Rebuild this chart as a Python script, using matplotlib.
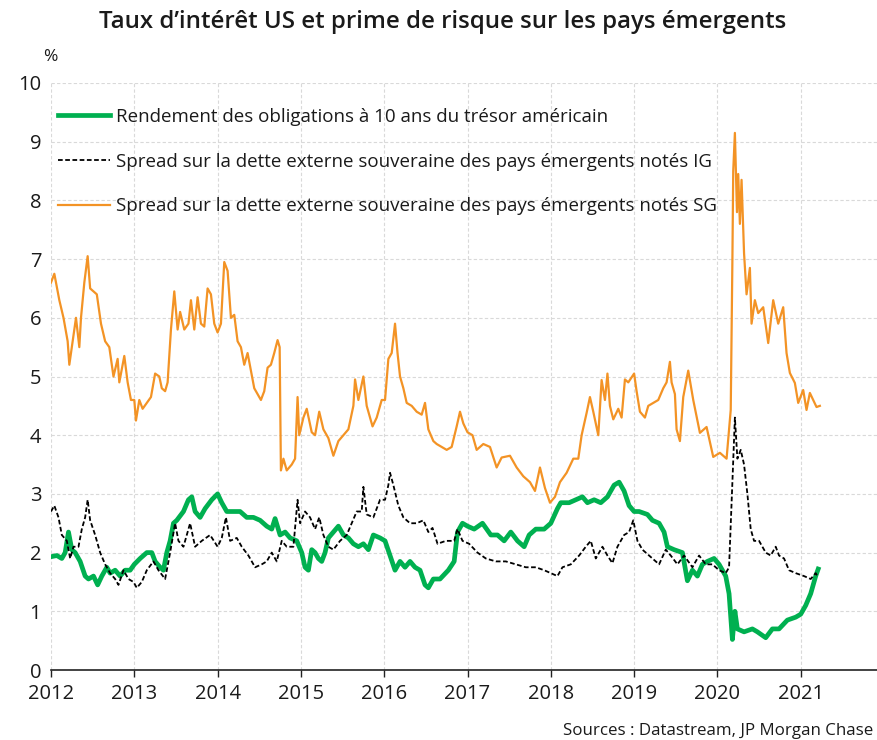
import matplotlib
matplotlib.use('Agg')
import matplotlib.pyplot as plt

plt.rcParams['font.family'] = ['Open Sans', 'DejaVu Sans']

# --- Data (decimal years) ---
us10y_t = [2012.00, 2012.07, 2012.13, 2012.17, 2012.21, 2012.25, 2012.29, 2012.35, 2012.41, 2012.45,
           2012.51, 2012.56, 2012.61, 2012.67, 2012.71, 2012.77, 2012.83, 2012.89, 2012.95, 2013.00,
           2013.07, 2013.15, 2013.21, 2013.25, 2013.31, 2013.35, 2013.39, 2013.43, 2013.47, 2013.51,
           2013.59, 2013.65, 2013.69, 2013.73, 2013.79, 2013.85, 2013.93, 2014.00, 2014.05, 2014.11,
           2014.19, 2014.27, 2014.35, 2014.43, 2014.51, 2014.59, 2014.65, 2014.69, 2014.75, 2014.81,
           2014.87, 2014.95, 2015.01, 2015.05, 2015.09, 2015.13, 2015.17, 2015.21, 2015.25, 2015.29,
           2015.33, 2015.39, 2015.45, 2015.51, 2015.57, 2015.63, 2015.69, 2015.75, 2015.81, 2015.87,
           2015.95, 2016.01, 2016.07, 2016.13, 2016.19, 2016.25, 2016.31, 2016.37, 2016.43, 2016.49,
           2016.53, 2016.59, 2016.67, 2016.77, 2016.84, 2016.88, 2016.94, 2017.00, 2017.08, 2017.18,
           2017.28, 2017.36, 2017.44, 2017.52, 2017.60, 2017.68, 2017.74, 2017.82, 2017.92, 2018.00,
           2018.08, 2018.12, 2018.22, 2018.30, 2018.38, 2018.44, 2018.52, 2018.60, 2018.68, 2018.76,
           2018.82, 2018.88, 2018.94, 2019.00, 2019.06, 2019.16, 2019.22, 2019.30, 2019.36, 2019.40,
           2019.48, 2019.58, 2019.64, 2019.70, 2019.76, 2019.82, 2019.88, 2019.96, 2020.02, 2020.10,
           2020.14, 2020.16, 2020.18, 2020.21, 2020.24, 2020.32, 2020.42, 2020.48, 2020.58, 2020.66,
           2020.74, 2020.84, 2020.94, 2021.00, 2021.06, 2021.12, 2021.18, 2021.21]
us10y_v = [1.93, 1.95, 1.90, 2.00, 2.35, 2.05, 2.00, 1.85, 1.60, 1.55,
           1.60, 1.45, 1.60, 1.75, 1.65, 1.70, 1.60, 1.70, 1.70, 1.80,
           1.90, 2.00, 2.00, 1.85, 1.75, 1.70, 2.00, 2.20, 2.50, 2.55,
           2.70, 2.90, 2.95, 2.70, 2.60, 2.75, 2.90, 3.00, 2.85, 2.70,
           2.70, 2.70, 2.60, 2.60, 2.55, 2.45, 2.40, 2.58, 2.30, 2.35,
           2.25, 2.20, 2.00, 1.75, 1.70, 2.05, 2.00, 1.90, 1.85, 2.00,
           2.25, 2.35, 2.45, 2.30, 2.25, 2.15, 2.10, 2.15, 2.05, 2.30,
           2.25, 2.20, 1.95, 1.70, 1.85, 1.75, 1.85, 1.75, 1.70, 1.45,
           1.40, 1.55, 1.55, 1.70, 1.85, 2.35, 2.50, 2.45, 2.40, 2.50,
           2.30, 2.30, 2.20, 2.35, 2.20, 2.10, 2.30, 2.40, 2.40, 2.50,
           2.75, 2.85, 2.85, 2.90, 2.95, 2.85, 2.90, 2.85, 2.95, 3.15,
           3.20, 3.05, 2.80, 2.70, 2.70, 2.65, 2.55, 2.50, 2.35, 2.10,
           2.05, 2.00, 1.52, 1.70, 1.60, 1.80, 1.85, 1.90, 1.80, 1.60,
           1.30, 0.90, 0.52, 1.00, 0.70, 0.65, 0.70, 0.65, 0.55, 0.70,
           0.70, 0.85, 0.90, 0.95, 1.10, 1.30, 1.60, 1.72]

ig_t = [2012.00, 2012.04, 2012.09, 2012.13, 2012.19, 2012.23, 2012.27, 2012.33, 2012.37, 2012.41,
        2012.44, 2012.47, 2012.53, 2012.59, 2012.65, 2012.71, 2012.77, 2012.81, 2012.87, 2012.93,
        2012.99, 2013.03, 2013.09, 2013.15, 2013.23, 2013.29, 2013.37, 2013.43, 2013.49, 2013.53,
        2013.59, 2013.67, 2013.73, 2013.81, 2013.91, 2014.00, 2014.05, 2014.10, 2014.15, 2014.23,
        2014.29, 2014.37, 2014.45, 2014.53, 2014.59, 2014.65, 2014.71, 2014.77, 2014.83, 2014.91,
        2014.96, 2014.99, 2015.05, 2015.11, 2015.17, 2015.22, 2015.27, 2015.33, 2015.39, 2015.47,
        2015.55, 2015.61, 2015.67, 2015.73, 2015.75, 2015.79, 2015.87, 2015.95, 2016.01, 2016.05,
        2016.07, 2016.11, 2016.17, 2016.23, 2016.31, 2016.39, 2016.47, 2016.53, 2016.58, 2016.64,
        2016.74, 2016.84, 2016.88, 2016.94, 2017.02, 2017.12, 2017.22, 2017.34, 2017.46, 2017.58,
        2017.70, 2017.82, 2017.92, 2018.08, 2018.14, 2018.24, 2018.34, 2018.42, 2018.48, 2018.54,
        2018.62, 2018.68, 2018.74, 2018.80, 2018.88, 2018.94, 2018.99, 2019.04, 2019.10, 2019.18,
        2019.30, 2019.38, 2019.44, 2019.52, 2019.60, 2019.70, 2019.78, 2019.86, 2019.94, 2020.02,
        2020.10, 2020.14, 2020.16, 2020.18, 2020.21, 2020.24, 2020.28, 2020.32, 2020.36, 2020.40,
        2020.44, 2020.50, 2020.58, 2020.64, 2020.70, 2020.74, 2020.80, 2020.86, 2020.94, 2021.04,
        2021.12, 2021.18, 2021.20]
ig_v = [2.70, 2.80, 2.60, 2.30, 2.20, 1.90, 2.10, 2.10, 2.40, 2.60,
        2.90, 2.55, 2.30, 2.00, 1.80, 1.65, 1.55, 1.45, 1.70, 1.55,
        1.50, 1.40, 1.50, 1.70, 1.85, 1.70, 1.55, 2.00, 2.50, 2.20,
        2.10, 2.50, 2.10, 2.20, 2.30, 2.10, 2.25, 2.60, 2.20, 2.25,
        2.10, 1.95, 1.75, 1.80, 1.85, 2.00, 1.85, 2.20, 2.10, 2.10,
        2.90, 2.50, 2.70, 2.60, 2.40, 2.60, 2.30, 2.10, 2.05, 2.20,
        2.30, 2.50, 2.70, 2.70, 3.12, 2.65, 2.60, 2.90, 2.90, 3.15,
        3.36, 3.15, 2.80, 2.60, 2.50, 2.50, 2.55, 2.35, 2.42, 2.15,
        2.20, 2.20, 2.40, 2.20, 2.15, 2.00, 1.90, 1.85, 1.85, 1.80,
        1.75, 1.75, 1.70, 1.60, 1.75, 1.80, 1.95, 2.10, 2.20, 1.90,
        2.10, 1.95, 1.82, 2.10, 2.30, 2.35, 2.55, 2.20, 2.05, 1.95,
        1.80, 2.05, 1.95, 1.80, 1.95, 1.75, 1.95, 1.80, 1.80, 1.70,
        1.65, 1.75, 2.50, 3.20, 4.30, 3.60, 3.75, 3.50, 3.00, 2.40,
        2.20, 2.20, 2.00, 1.95, 2.10, 1.95, 1.90, 1.70, 1.65, 1.60,
        1.55, 1.65, 1.60]

sg_t = [2012.00, 2012.04, 2012.10, 2012.15, 2012.20, 2012.22, 2012.25, 2012.30, 2012.34, 2012.36,
        2012.40, 2012.44, 2012.47, 2012.55, 2012.60, 2012.65, 2012.70, 2012.75, 2012.80, 2012.82,
        2012.88, 2012.92, 2012.96, 2013.00, 2013.02, 2013.06, 2013.10, 2013.20, 2013.25, 2013.30,
        2013.33, 2013.37, 2013.40, 2013.44, 2013.48, 2013.52, 2013.55, 2013.60, 2013.65, 2013.68,
        2013.72, 2013.76, 2013.80, 2013.84, 2013.88, 2013.92, 2013.96, 2014.00, 2014.04, 2014.08,
        2014.12, 2014.16, 2014.20, 2014.24, 2014.28, 2014.32, 2014.36, 2014.40, 2014.44, 2014.48,
        2014.52, 2014.56, 2014.60, 2014.64, 2014.68, 2014.72, 2014.745, 2014.76, 2014.79, 2014.83,
        2014.89, 2014.93, 2014.96, 2014.98, 2015.03, 2015.07, 2015.13, 2015.17, 2015.22, 2015.27,
        2015.33, 2015.39, 2015.45, 2015.51, 2015.57, 2015.63, 2015.65, 2015.69, 2015.75, 2015.79,
        2015.86, 2015.91, 2015.97, 2016.01, 2016.05, 2016.09, 2016.13, 2016.16, 2016.19, 2016.23,
        2016.27, 2016.33, 2016.39, 2016.45, 2016.49, 2016.53, 2016.59, 2016.63, 2016.69, 2016.75,
        2016.81, 2016.87, 2016.91, 2016.95, 2017.00, 2017.06, 2017.11, 2017.19, 2017.27, 2017.35,
        2017.41, 2017.51, 2017.59, 2017.67, 2017.75, 2017.81, 2017.87, 2017.93, 2017.99, 2018.05,
        2018.11, 2018.19, 2018.27, 2018.33, 2018.37, 2018.43, 2018.47, 2018.51, 2018.57, 2018.61,
        2018.65, 2018.68, 2018.71, 2018.75, 2018.81, 2018.85, 2018.89, 2018.93, 2019.00, 2019.03,
        2019.07, 2019.13, 2019.17, 2019.23, 2019.29, 2019.35, 2019.39, 2019.43, 2019.45, 2019.49,
        2019.51, 2019.55, 2019.59, 2019.65, 2019.71, 2019.79, 2019.87, 2019.95, 2020.03, 2020.11,
        2020.16, 2020.18, 2020.19, 2020.21, 2020.235, 2020.25, 2020.27, 2020.29, 2020.32, 2020.35,
        2020.39, 2020.41, 2020.45, 2020.49, 2020.55, 2020.61, 2020.67, 2020.73, 2020.79, 2020.83,
        2020.87, 2020.93, 2020.97, 2021.03, 2021.07, 2021.11, 2021.19, 2021.23]
sg_v = [6.60, 6.75, 6.30, 6.00, 5.60, 5.20, 5.50, 6.00, 5.50, 6.00,
        6.60, 7.05, 6.50, 6.40, 5.90, 5.60, 5.50, 5.00, 5.30, 4.90,
        5.35, 4.90, 4.60, 4.60, 4.25, 4.60, 4.45, 4.65, 5.05, 5.00,
        4.80, 4.75, 4.90, 5.80, 6.45, 5.80, 6.10, 5.80, 5.90, 6.30,
        5.80, 6.35, 5.90, 5.85, 6.50, 6.40, 5.90, 5.75, 5.90, 6.95,
        6.80, 6.00, 6.05, 5.60, 5.50, 5.20, 5.40, 5.10, 4.80, 4.70,
        4.60, 4.75, 5.15, 5.20, 5.40, 5.62, 5.50, 3.40, 3.60, 3.40,
        3.50, 3.60, 4.65, 4.00, 4.30, 4.45, 4.05, 4.00, 4.40, 4.10,
        3.95, 3.65, 3.90, 4.00, 4.10, 4.50, 4.95, 4.60, 5.00, 4.50,
        4.15, 4.30, 4.60, 4.60, 5.30, 5.40, 5.90, 5.40, 5.00, 4.80,
        4.55, 4.50, 4.40, 4.35, 4.55, 4.10, 3.90, 3.85, 3.80, 3.75,
        3.80, 4.15, 4.40, 4.20, 4.05, 4.00, 3.75, 3.85, 3.80, 3.45,
        3.62, 3.65, 3.45, 3.30, 3.20, 3.05, 3.45, 3.10, 2.85, 2.95,
        3.20, 3.36, 3.60, 3.60, 4.00, 4.38, 4.65, 4.40, 4.00, 4.94,
        4.60, 5.05, 4.50, 4.27, 4.45, 4.30, 4.95, 4.90, 5.05, 4.75,
        4.40, 4.30, 4.50, 4.55, 4.60, 4.80, 4.90, 5.25, 4.90, 4.70,
        4.10, 3.90, 4.65, 5.10, 4.60, 4.04, 4.14, 3.63, 3.70, 3.60,
        4.43, 6.98, 8.50, 9.15, 7.80, 8.45, 7.60, 8.35, 7.10, 6.40,
        6.85, 5.90, 6.30, 6.08, 6.18, 5.57, 6.30, 5.90, 6.18, 5.40,
        5.06, 4.89, 4.55, 4.77, 4.43, 4.72, 4.48, 4.50]

years = [2012, 2013, 2014, 2015, 2016, 2017, 2018, 2019, 2020, 2021]

labels = ["Rendement des obligations à 10 ans du trésor américain",
          "Spread sur la dette externe souveraine des pays émergents notés IG",
          "Spread sur la dette externe souveraine des pays émergents notés SG"]

# --- Figure ---
fig = plt.figure(figsize=(8.77, 7.40), dpi=100)
ax = fig.add_axes([51 / 877, 1 - 670 / 740, 1 - 51 / 877, (670 - 83) / 740])

ax.plot(us10y_t, us10y_v, color='#00b050', lw=3.4, label=labels[0], zorder=3)
ax.plot(ig_t, ig_v, color='black', lw=1.3, ls=(0, (2.6, 1.4)), label=labels[1], zorder=4)
ax.plot(sg_t, sg_v, color='#f39325', lw=1.6, label=labels[2], zorder=2)

ax.set_xlim(2012, 2012 + 826 / 83.3)
ax.set_ylim(0, 10)
ax.set_xticks(years)
ax.set_xticklabels([str(y) for y in years])
ax.set_yticks(range(11))

ax.grid(True, color='#d9d9d9', ls=(0, (3, 2)), lw=0.8)
ax.set_axisbelow(True)
for s in ['left', 'right', 'top']:
    ax.spines[s].set_visible(False)
ax.spines['bottom'].set_color('#222222')
ax.spines['bottom'].set_linewidth(1.2)
ax.tick_params(axis='x', length=5, width=1, color='#222222', labelsize=14.5, pad=5, labelcolor='#1a1a1a')
ax.tick_params(axis='y', length=0, labelsize=14.5, pad=7, labelcolor='#1a1a1a')
for lab in ax.get_xticklabels() + ax.get_yticklabels():
    lab.set_fontweight('medium')

leg = ax.legend(loc='upper left', bbox_to_anchor=(58 / 877, 1 - 108 / 740),
                bbox_transform=fig.transFigure, frameon=False, fontsize=13.5,
                handlelength=2.8, handletextpad=0.27, labelspacing=1.42, borderpad=0,
                borderaxespad=0)
for t in leg.get_texts():
    t.set_color('#1a1a1a')

fig.text(443 / 877, 1 - 22 / 740, "Taux d’intérêt US et prime de risque sur les pays émergents",
         ha='center', va='center', fontsize=17.3, fontweight='semibold', color='#1a1a1a')
fig.text(50 / 877, 1 - 57 / 740, "%", ha='center', va='center', fontsize=12.5, color='#1a1a1a')
fig.text(873 / 877, 1 - 731 / 740, "Sources : Datastream, JP Morgan Chase",
         ha='right', va='center', fontsize=12.2, color='#1a1a1a')

fig.savefig('out.png', dpi=100)
